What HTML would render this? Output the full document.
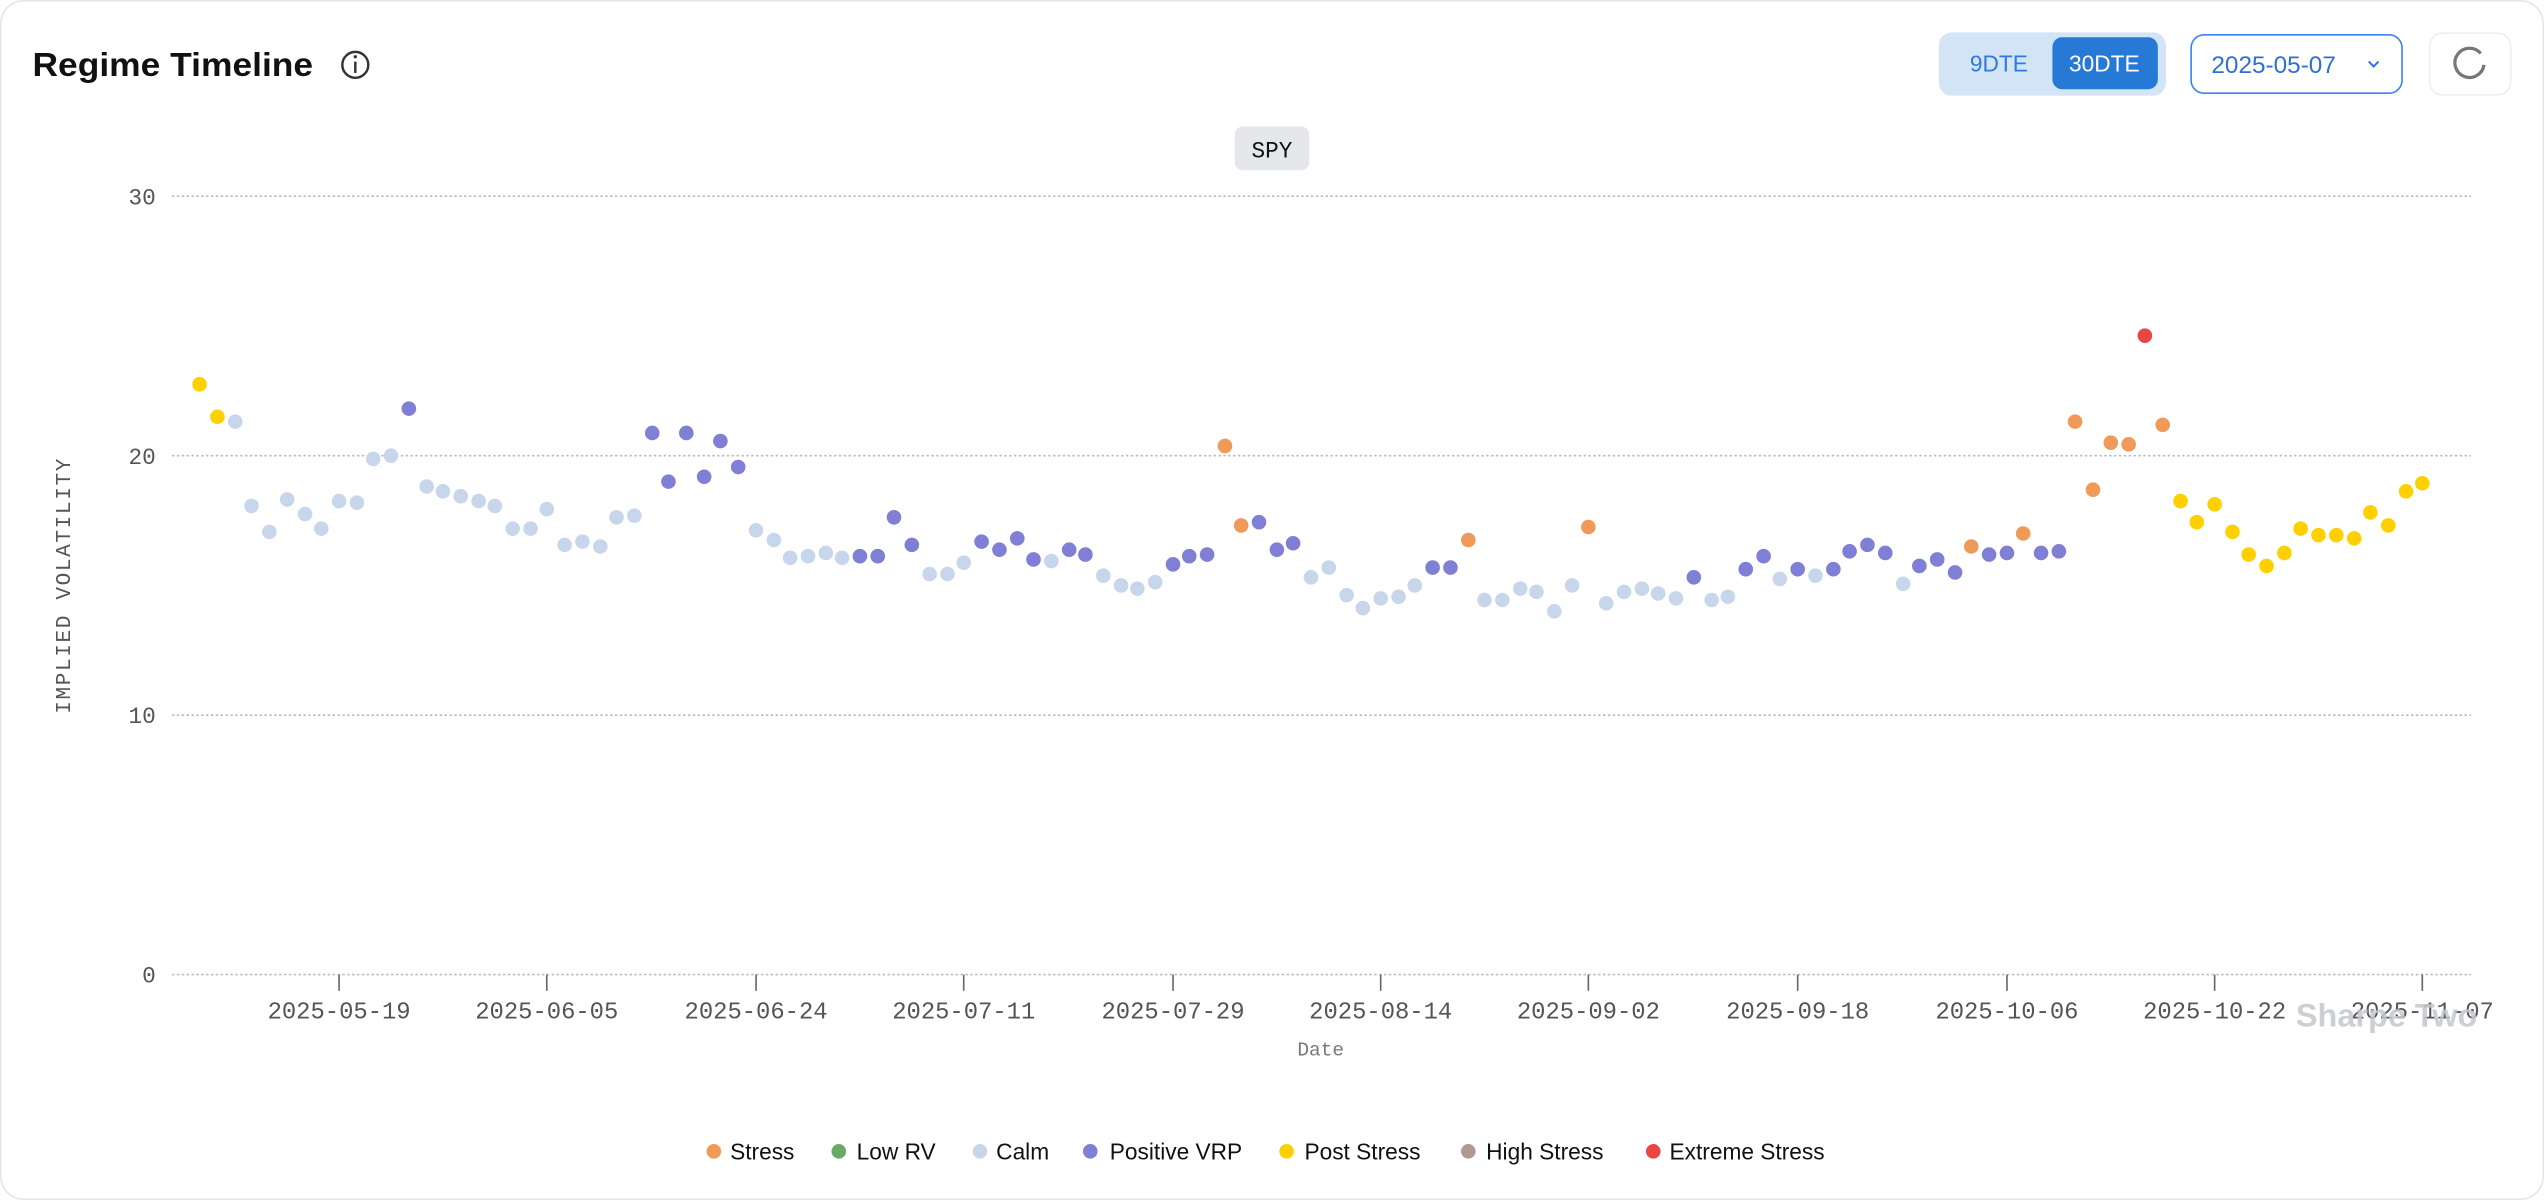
<!DOCTYPE html>
<html><head><meta charset="utf-8"><style>
html,body{margin:0;padding:0;background:#fff;}
svg{display:block;}
.m{font-family:"Liberation Mono",monospace;fill:#555;}
.s{font-family:"Liberation Sans",sans-serif;}
.c{fill:#c8d6ec}.p{fill:#7f7fd6}.t{fill:#f09a5a}.y{fill:#ffd000}.r{fill:#e84545}
</style></head><body>
<svg width="2544" height="1200" viewBox="0 0 1568 740" preserveAspectRatio="none" xmlns="http://www.w3.org/2000/svg">
<rect x="0.5" y="0.5" width="1567" height="739" rx="14" fill="#fff" stroke="#e6e6e6"/>
<text x="20" y="47" class="s" font-size="20.5" font-weight="bold" fill="#111" textLength="173" lengthAdjust="spacingAndGlyphs">Regime Timeline</text>
<circle cx="219" cy="40" r="8" fill="none" stroke="#333" stroke-width="1.5"/>
<line x1="219" y1="38" x2="219" y2="45" stroke="#333" stroke-width="1.5"/><circle cx="219" cy="35" r="1" fill="#333"/>
<rect x="1195" y="20" width="140" height="39" rx="8" fill="#d4e4f7"/>
<text x="1232" y="44" class="s" font-size="14" fill="#2f7bd9" text-anchor="middle">9DTE</text>
<rect x="1265" y="23" width="65" height="32" rx="6" fill="#2779d6"/>
<text x="1297" y="44" class="s" font-size="14" fill="#fff" text-anchor="middle">30DTE</text>
<rect x="1350.5" y="21.5" width="130" height="36" rx="8" fill="#fff" stroke="#3b82f6"/>
<text x="1363" y="45" class="s" font-size="15" fill="#2f6fd9">2025-05-07</text>
<polyline points="1460,38 1463,41 1466,38" fill="none" stroke="#2f6fd9" stroke-width="1.2"/>
<rect x="1497.5" y="20.5" width="50" height="38" rx="8" fill="#fff" stroke="#eee"/>
<path d="M1529,33 A9,9 0 1 0 1531,40" fill="none" stroke="#777" stroke-width="2"/>
<rect x="761" y="78" width="46" height="27" rx="5" fill="#e5e7eb"/>
<text x="784" y="97" class="m" font-size="14" style="fill:#111" text-anchor="middle">SPY</text>
<g stroke="#bbb" stroke-dasharray="1.5,1.5" stroke-width="1">
<line x1="106" y1="121" x2="1523" y2="121"/><line x1="106" y1="281" x2="1523" y2="281"/>
<line x1="106" y1="441" x2="1523" y2="441"/><line x1="106" y1="601" x2="1523" y2="601"/>
</g>
<g class="m" font-size="14" text-anchor="end">
<text x="96" y="126">30</text><text x="96" y="286">20</text><text x="96" y="446">10</text><text x="96" y="606">0</text>
</g>
<text transform="translate(43,361) rotate(-90)" class="m" font-size="13" text-anchor="middle" letter-spacing="1">IMPLIED VOLATILITY</text>
<g stroke="#666" stroke-width="1">
<line x1="209" y1="601" x2="209" y2="611"/><line x1="337" y1="601" x2="337" y2="611"/><line x1="466" y1="601" x2="466" y2="611"/><line x1="594" y1="601" x2="594" y2="611"/><line x1="723" y1="601" x2="723" y2="611"/><line x1="851" y1="601" x2="851" y2="611"/><line x1="979" y1="601" x2="979" y2="611"/><line x1="1108" y1="601" x2="1108" y2="611"/><line x1="1237" y1="601" x2="1237" y2="611"/><line x1="1365" y1="601" x2="1365" y2="611"/><line x1="1493" y1="601" x2="1493" y2="611"/>
</g>
<g class="m" font-size="14.7" text-anchor="middle">
<text x="209" y="628">2025-05-19</text><text x="337" y="628">2025-06-05</text><text x="466" y="628">2025-06-24</text><text x="594" y="628">2025-07-11</text><text x="723" y="628">2025-07-29</text><text x="851" y="628">2025-08-14</text><text x="979" y="628">2025-09-02</text><text x="1108" y="628">2025-09-18</text><text x="1237" y="628">2025-10-06</text><text x="1365" y="628">2025-10-22</text><text x="1493" y="628">2025-11-07</text>
</g>
<text x="1471" y="633" class="s" font-size="20" font-weight="bold" fill="#c4c7cd" text-anchor="middle" opacity="0.85">Sharpe Two</text>
<text x="814" y="651" class="m" font-size="12" text-anchor="middle" style="fill:#777">Date</text>
<g>
<circle cx="123" cy="237" r="4.5" class="y"/><circle cx="134" cy="257" r="4.5" class="y"/><circle cx="145" cy="260" r="4.5" class="c"/><circle cx="155" cy="312" r="4.5" class="c"/><circle cx="166" cy="328" r="4.5" class="c"/><circle cx="177" cy="308" r="4.5" class="c"/><circle cx="188" cy="317" r="4.5" class="c"/><circle cx="198" cy="326" r="4.5" class="c"/><circle cx="209" cy="309" r="4.5" class="c"/><circle cx="220" cy="310" r="4.5" class="c"/>
<circle cx="230" cy="283" r="4.5" class="c"/><circle cx="241" cy="281" r="4.5" class="c"/><circle cx="252" cy="252" r="4.5" class="p"/><circle cx="263" cy="300" r="4.5" class="c"/><circle cx="273" cy="303" r="4.5" class="c"/><circle cx="284" cy="306" r="4.5" class="c"/><circle cx="295" cy="309" r="4.5" class="c"/><circle cx="305" cy="312" r="4.5" class="c"/><circle cx="316" cy="326" r="4.5" class="c"/><circle cx="327" cy="326" r="4.5" class="c"/>
<circle cx="337" cy="314" r="4.5" class="c"/><circle cx="348" cy="336" r="4.5" class="c"/><circle cx="359" cy="334" r="4.5" class="c"/><circle cx="370" cy="337" r="4.5" class="c"/><circle cx="380" cy="319" r="4.5" class="c"/><circle cx="391" cy="318" r="4.5" class="c"/><circle cx="402" cy="267" r="4.5" class="p"/><circle cx="412" cy="297" r="4.5" class="p"/><circle cx="423" cy="267" r="4.5" class="p"/><circle cx="434" cy="294" r="4.5" class="p"/>
<circle cx="444" cy="272" r="4.5" class="p"/><circle cx="455" cy="288" r="4.5" class="p"/><circle cx="466" cy="327" r="4.5" class="c"/><circle cx="477" cy="333" r="4.5" class="c"/><circle cx="487" cy="344" r="4.5" class="c"/><circle cx="498" cy="343" r="4.5" class="c"/><circle cx="509" cy="341" r="4.5" class="c"/><circle cx="519" cy="344" r="4.5" class="c"/><circle cx="530" cy="343" r="4.5" class="p"/><circle cx="541" cy="343" r="4.5" class="p"/>
<circle cx="551" cy="319" r="4.5" class="p"/><circle cx="562" cy="336" r="4.5" class="p"/><circle cx="573" cy="354" r="4.5" class="c"/><circle cx="584" cy="354" r="4.5" class="c"/><circle cx="594" cy="347" r="4.5" class="c"/><circle cx="605" cy="334" r="4.5" class="p"/><circle cx="616" cy="339" r="4.5" class="p"/><circle cx="627" cy="332" r="4.5" class="p"/><circle cx="637" cy="345" r="4.5" class="p"/><circle cx="648" cy="346" r="4.5" class="c"/>
<circle cx="659" cy="339" r="4.5" class="p"/><circle cx="669" cy="342" r="4.5" class="p"/><circle cx="680" cy="355" r="4.5" class="c"/><circle cx="691" cy="361" r="4.5" class="c"/><circle cx="701" cy="363" r="4.5" class="c"/><circle cx="712" cy="359" r="4.5" class="c"/><circle cx="723" cy="348" r="4.5" class="p"/><circle cx="733" cy="343" r="4.5" class="p"/><circle cx="744" cy="342" r="4.5" class="p"/><circle cx="755" cy="275" r="4.5" class="t"/>
<circle cx="765" cy="324" r="4.5" class="t"/><circle cx="776" cy="322" r="4.5" class="p"/><circle cx="787" cy="339" r="4.5" class="p"/><circle cx="797" cy="335" r="4.5" class="p"/><circle cx="808" cy="356" r="4.5" class="c"/><circle cx="819" cy="350" r="4.5" class="c"/><circle cx="830" cy="367" r="4.5" class="c"/><circle cx="840" cy="375" r="4.5" class="c"/><circle cx="851" cy="369" r="4.5" class="c"/><circle cx="862" cy="368" r="4.5" class="c"/>
<circle cx="872" cy="361" r="4.5" class="c"/><circle cx="883" cy="350" r="4.5" class="p"/><circle cx="894" cy="350" r="4.5" class="p"/><circle cx="905" cy="333" r="4.5" class="t"/><circle cx="915" cy="370" r="4.5" class="c"/><circle cx="926" cy="370" r="4.5" class="c"/><circle cx="937" cy="363" r="4.5" class="c"/><circle cx="947" cy="365" r="4.5" class="c"/><circle cx="958" cy="377" r="4.5" class="c"/><circle cx="969" cy="361" r="4.5" class="c"/>
<circle cx="979" cy="325" r="4.5" class="t"/><circle cx="990" cy="372" r="4.5" class="c"/><circle cx="1001" cy="365" r="4.5" class="c"/><circle cx="1012" cy="363" r="4.5" class="c"/><circle cx="1022" cy="366" r="4.5" class="c"/><circle cx="1033" cy="369" r="4.5" class="c"/><circle cx="1044" cy="356" r="4.5" class="p"/><circle cx="1055" cy="370" r="4.5" class="c"/><circle cx="1065" cy="368" r="4.5" class="c"/><circle cx="1076" cy="351" r="4.5" class="p"/>
<circle cx="1087" cy="343" r="4.5" class="p"/><circle cx="1097" cy="357" r="4.5" class="c"/><circle cx="1108" cy="351" r="4.5" class="p"/><circle cx="1119" cy="355" r="4.5" class="c"/><circle cx="1130" cy="351" r="4.5" class="p"/><circle cx="1140" cy="340" r="4.5" class="p"/><circle cx="1151" cy="336" r="4.5" class="p"/><circle cx="1162" cy="341" r="4.5" class="p"/><circle cx="1173" cy="360" r="4.5" class="c"/><circle cx="1183" cy="349" r="4.5" class="p"/>
<circle cx="1194" cy="345" r="4.5" class="p"/><circle cx="1205" cy="353" r="4.5" class="p"/><circle cx="1215" cy="337" r="4.5" class="t"/><circle cx="1226" cy="342" r="4.5" class="p"/><circle cx="1237" cy="341" r="4.5" class="p"/><circle cx="1247" cy="329" r="4.5" class="t"/><circle cx="1258" cy="341" r="4.5" class="p"/><circle cx="1269" cy="340" r="4.5" class="p"/><circle cx="1279" cy="260" r="4.5" class="t"/><circle cx="1290" cy="302" r="4.5" class="t"/>
<circle cx="1301" cy="273" r="4.5" class="t"/><circle cx="1312" cy="274" r="4.5" class="t"/><circle cx="1322" cy="207" r="4.5" class="r"/><circle cx="1333" cy="262" r="4.5" class="t"/><circle cx="1344" cy="309" r="4.5" class="y"/><circle cx="1354" cy="322" r="4.5" class="y"/><circle cx="1365" cy="311" r="4.5" class="y"/><circle cx="1376" cy="328" r="4.5" class="y"/><circle cx="1386" cy="342" r="4.5" class="y"/><circle cx="1397" cy="349" r="4.5" class="y"/>
<circle cx="1408" cy="341" r="4.5" class="y"/><circle cx="1418" cy="326" r="4.5" class="y"/><circle cx="1429" cy="330" r="4.5" class="y"/><circle cx="1440" cy="330" r="4.5" class="y"/><circle cx="1451" cy="332" r="4.5" class="y"/><circle cx="1461" cy="316" r="4.5" class="y"/><circle cx="1472" cy="324" r="4.5" class="y"/><circle cx="1483" cy="303" r="4.5" class="y"/><circle cx="1493" cy="298" r="4.5" class="y"/>
</g>
<g class="s" font-size="14" fill="#111">
<circle cx="440" cy="710" r="4.5" class="t"/><text x="450" y="715">Stress</text>
<circle cx="517" cy="710" r="4.5" fill="#6aaa64"/><text x="528" y="715">Low RV</text>
<circle cx="604" cy="710" r="4.5" class="c"/><text x="614" y="715">Calm</text>
<circle cx="672" cy="710" r="4.5" class="p"/><text x="684" y="715">Positive VRP</text>
<circle cx="793" cy="710" r="4.5" class="y"/><text x="804" y="715">Post Stress</text>
<circle cx="905" cy="710" r="4.5" fill="#b09a90"/><text x="916" y="715">High Stress</text>
<circle cx="1019" cy="710" r="4.5" class="r"/><text x="1029" y="715">Extreme Stress</text>
</g>
</svg>
</body></html>
